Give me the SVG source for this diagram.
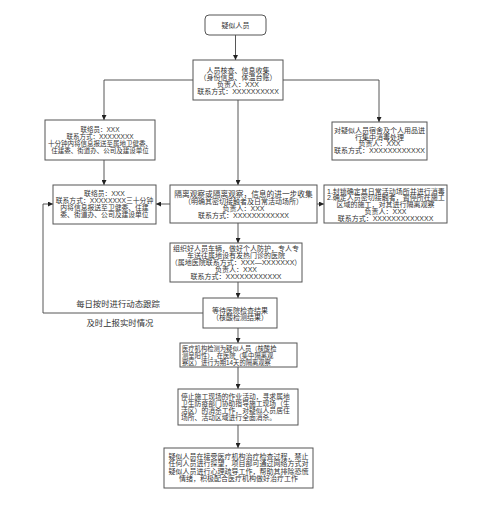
<svg xmlns="http://www.w3.org/2000/svg" width="496" height="505" viewBox="0 0 496 505">
<style>
.box{fill:#fff;stroke:#555;stroke-width:1}
.t{font-family:"Liberation Sans","Noto Sans CJK SC",sans-serif;font-size:7px;fill:#333;dominant-baseline:central;text-anchor:middle}
.s{font-size:6.5px}
.m{font-size:6.8px}
.l{text-anchor:start}
.lbl{font-family:"Liberation Sans","Noto Sans CJK SC",sans-serif;font-size:8.4px;fill:#333;dominant-baseline:central;text-anchor:middle}
.c{fill:none;stroke:#444;stroke-width:0.9}
</style>
<defs>
<marker id="ah" markerUnits="userSpaceOnUse" markerWidth="5" markerHeight="5" refX="5" refY="2.5" orient="auto">
<path d="M0,0 L5,2.5 L0,5 z" fill="#222"/>
</marker>
</defs>
<rect width="496" height="505" fill="#fff"/>
<g id="connectors">
<path class="c" d="M235.5,35 V60" marker-end="url(#ah)"/>
<path class="c" d="M193,80 H104 V120" marker-end="url(#ah)"/>
<path class="c" d="M283,80 H379 V122" marker-end="url(#ah)"/>
<path class="c" d="M238,100 V185" marker-end="url(#ah)"/>
<path class="c" d="M104,160 V185" marker-end="url(#ah)"/>
<path class="c" d="M170,204 H156" marker-end="url(#ah)"/>
<path class="c" d="M317,204 H324" marker-end="url(#ah)"/>
<path class="c" d="M238,223 V243" marker-end="url(#ah)"/>
<path class="c" d="M238,282 V298" marker-end="url(#ah)"/>
<path class="c" d="M203,313 H43 V204 H53" marker-end="url(#ah)"/>
<path class="c" d="M238,328 V343" marker-end="url(#ah)"/>
<path class="c" d="M238,367 V389" marker-end="url(#ah)"/>
<path class="c" d="M238,425 V448" marker-end="url(#ah)"/>
<text class="lbl" x="118" y="304">每日按时进行动态跟踪</text>
<text class="lbl" x="120" y="323">及时上报实时情况</text>
</g>
<g id="n1">
<rect class="box" x="205" y="15" width="61" height="20" rx="4"/>
<text class="t" x="235.5" y="25">疑似人员</text>
</g>
<g id="n2">
<rect class="box" x="193" y="60" width="90" height="40"/>
<text class="t" x="238" y="70">人员核查、信息收集</text>
<text class="t" x="238" y="77">（身份信息、体温台账）</text>
<text class="t" x="238" y="84">负责人：XXX</text>
<text class="t" x="238" y="91">联系方式：XXXXXXXXXX</text>
</g>
<g id="n3">
<rect class="box" x="45" y="120" width="110" height="40"/>
<text class="t s" x="100" y="129">联络员：XXX</text>
<text class="t s" x="100" y="136">联系方式：XXXXXXXX</text>
<text class="t s" x="100" y="143">十分钟内将信息报送至属地卫健委、</text>
<text class="t s" x="100" y="150">住建委、街道办、公司及建设单位</text>
</g>
<g id="n4">
<rect class="box" x="53" y="185" width="103" height="39"/>
<text class="t m" x="104.5" y="193">联络员：XXX</text>
<text class="t m" x="104.5" y="200">联系方式：XXXXXXXX三十分钟</text>
<text class="t m" x="104.5" y="207">内将信息报送至卫健委、住建</text>
<text class="t m" x="104.5" y="214">委、街道办、公司及建设单位</text>
</g>
<g id="n5">
<rect class="box" x="332" y="122" width="95" height="38"/>
<text class="t" x="379.5" y="130">对疑似人员宿舍及个人用品进</text>
<text class="t" x="379.5" y="137">行集中消毒处理</text>
<text class="t" x="379.5" y="143.5">负责人：XXX</text>
<text class="t" x="379.5" y="150">联系方式：XXXXXXXXXXXX</text>
</g>
<g id="n6">
<rect class="box" x="170" y="185" width="147" height="38"/>
<text class="t" x="243.5" y="194" style="font-size:7.7px">隔离观察或隔离观察，信息的进一步收集</text>
<text class="t" x="243.5" y="201">（明确其密切接触者及日常活动场所）</text>
<text class="t" x="243.5" y="208">负责人：XXX</text>
<text class="t" x="243.5" y="215">联系方式：XXXXXXXXXXXX</text>
</g>
<g id="n7">
<rect class="box" x="324" y="185" width="123" height="38"/>
<text class="t l" x="327" y="191">1.封锁确定其日常活动场所并进行消毒</text>
<text class="t l" x="327" y="197.5">2.确定人员密切接触者，暂停所在施工</text>
<text class="t" x="385.5" y="204">区域的施工，对其进行隔离观察</text>
<text class="t" x="385.5" y="211">负责人：XXX</text>
<text class="t" x="385.5" y="218">联系方式：XXXXXXXXXXXXX</text>
</g>
<g id="n8">
<rect class="box" x="170" y="243" width="132" height="39"/>
<text class="t" x="236" y="248.5">组织好人员车辆，做好个人防护，专人专</text>
<text class="t" x="236" y="255">车送往属地设有发热门诊的医院</text>
<text class="t" x="236" y="262">（属地医院联系方式：XXX—XXXXXXX）</text>
<text class="t" x="236" y="269">负责人：XXX</text>
<text class="t" x="236" y="276">联系方式：XXXXXXXXXXXX</text>
</g>
<g id="n9">
<rect class="box" x="203" y="298" width="74" height="30"/>
<text class="t" x="240" y="310.5">等待医院检查结果</text>
<text class="t" x="240" y="317">（核酸检测结果）</text>
</g>
<g id="n10">
<rect class="box" x="180" y="343" width="117" height="24"/>
<text class="t l" x="182" y="348.5" style="font-size:6.3px">医疗机构检测为疑似人员（核酸检</text>
<text class="t l" x="182" y="355.5" style="font-size:6.3px">测呈阳性），在医院（集中隔离观</text>
<text class="t l" x="182" y="362.5" style="font-size:6.3px">察区）进行为期14天的隔离观察</text>
</g>
<g id="n11">
<rect class="box" x="178" y="389" width="120" height="36"/>
<text class="t l m" x="181" y="396">停止施工现场的作业活动，寻求属地</text>
<text class="t l m" x="181" y="403">卫生防疫部门协助指导施工现场（生</text>
<text class="t l m" x="181" y="410">活区）的消杀工作，对疑似人员居住</text>
<text class="t l m" x="181" y="417.5">场所、活动区域进行全面消杀。</text>
</g>
<g id="n12">
<rect class="box" x="164" y="448" width="149" height="40"/>
<text class="t" x="238.5" y="456">疑似人员在接受医疗机构治疗检查过程，禁止</text>
<text class="t" x="238.5" y="463.5">任何人员进行探望，项目部可通过网络方式对</text>
<text class="t" x="238.5" y="471">疑似人员进行心理疏导工作，帮助其排除恐慌</text>
<text class="t" x="238.5" y="478.5">情绪，积极配合医疗机构做好治疗工作</text>
</g>
</svg>
